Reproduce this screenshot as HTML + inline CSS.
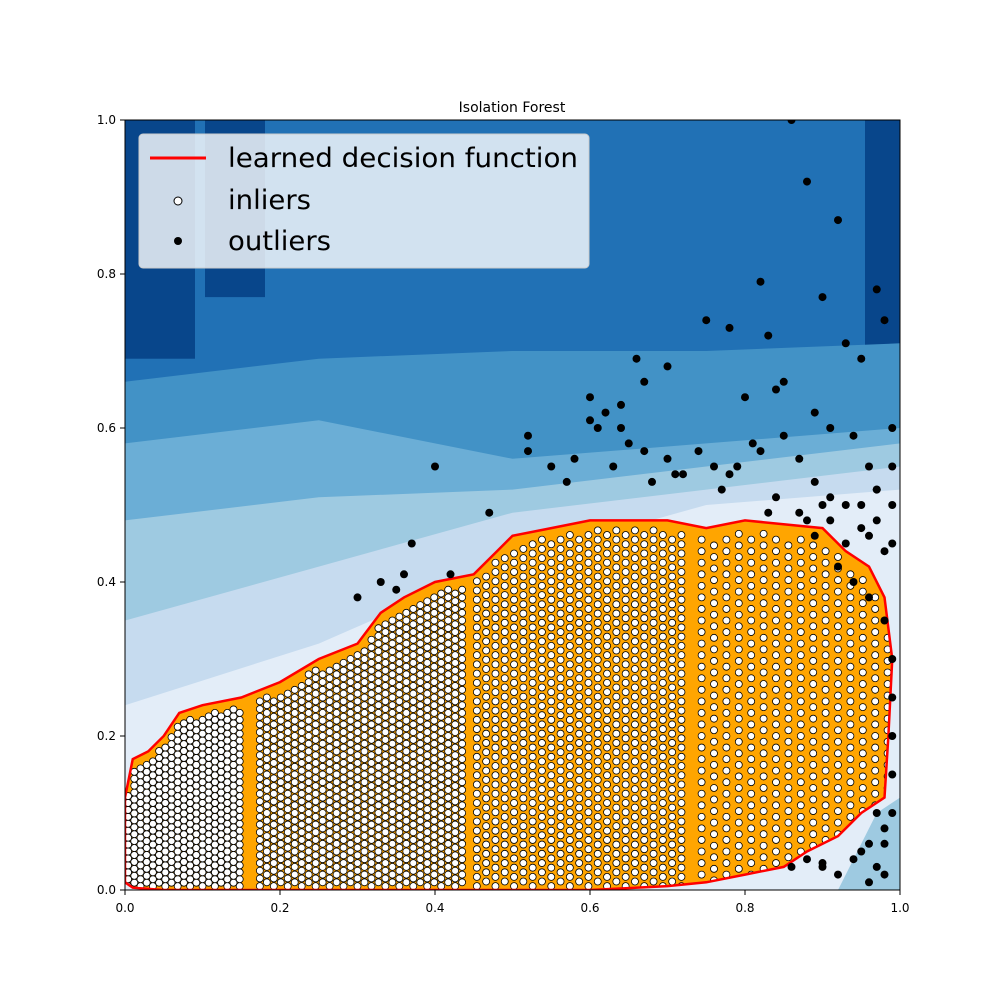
<!DOCTYPE html>
<html><head><meta charset="utf-8"><style>
body{margin:0;background:#fff}
svg text{font-family:"DejaVu Sans","Liberation Sans",sans-serif}
</style></head><body>
<svg id="c" width="1000" height="1000" xmlns="http://www.w3.org/2000/svg">
<text x="512" y="112" font-size="14" text-anchor="middle">Isolation Forest</text>
<clipPath id="cp"><rect x="125" y="120" width="775" height="770"/></clipPath>
<clipPath id="cpin"><path id="cpinpath" d=""/></clipPath>
<g id="plot" clip-path="url(#cp)"></g>
<rect x="125" y="120" width="775" height="770" fill="none" stroke="#000" stroke-width="1"/>
<g id="axes"></g>
<g>
<rect x="139" y="134" width="450" height="134" rx="4" fill="#fff" fill-opacity="0.8" stroke="#ccc"/>
<line x1="150" y1="158" x2="206" y2="158" stroke="red" stroke-width="3"/>
<text x="228" y="167" font-size="27" textLength="350" lengthAdjust="spacingAndGlyphs">learned decision function</text>
<circle cx="178" cy="201" r="4" fill="#fff" stroke="#000"/>
<text x="228" y="209" font-size="27" textLength="83" lengthAdjust="spacingAndGlyphs">inliers</text>
<circle cx="178" cy="241" r="4" fill="#000"/>
<text x="228" y="250" font-size="27" textLength="103" lengthAdjust="spacingAndGlyphs">outliers</text>
</g>
</svg>
<script>
const ticks=[0,0.2,0.4,0.6,0.8,1.0];
const tickLabels=["0.0","0.2","0.4","0.6","0.8","1.0"];
const bandX=[0,0.25,0.5,0.75,1.0];
const bandColors=["#4292c6","#6baed6","#9ecae1","#c6dbef","#e3edf8"];
const bandTops=[[0.66,0.69,0.70,0.70,0.71],[0.58,0.61,0.56,0.58,0.60],[0.48,0.51,0.52,0.55,0.58],[0.35,0.42,0.49,0.52,0.55],[0.24,0.32,0.43,0.50,0.52]];
const boundaryX=[0,0.01,0.03,0.05,0.07,0.1,0.15,0.2,0.25,0.3,0.33,0.36,0.4,0.45,0.48,0.5,0.55,0.6,0.7,0.75,0.8,0.9,0.93,0.96,0.98,0.99,0.985,0.98,0.95,0.92,0.88,0.85,0.8,0.75,0.7,0.6,0.3,0.05,0.01,0];
const boundaryY=[0.12,0.17,0.18,0.2,0.23,0.24,0.25,0.27,0.3,0.32,0.36,0.38,0.4,0.41,0.44,0.46,0.47,0.48,0.48,0.47,0.48,0.47,0.44,0.42,0.38,0.3,0.2,0.12,0.1,0.07,0.05,0.03,0.02,0.01,0.005,0.0,0.0,0.0,0.003,0.01];
const colStart=[0.0,0.17,0.45,0.74];
const colEnd=[0.15,0.44,0.72,0.985];
const colStep=[0.008,0.009,0.012,0.016];
const rowStep=[0.009,0.01,0.012,0.015];
const outX=[0.3,0.33,0.35,0.36,0.37,0.4,0.42,0.47,0.52,0.52,0.55,0.57,0.58,0.6,0.61,0.62,0.63,0.64,0.65,0.66,0.67,0.68,0.7,0.7,0.72,0.75,0.76,0.77,0.78,0.8,0.81,0.82,0.83,0.84,0.85,0.86,0.87,0.88,0.89,0.9,0.91,0.92,0.93,0.94,0.95,0.96,0.97,0.98,0.99,0.82,0.85,0.9,0.95,0.97,0.93,0.96,0.88,0.92,0.94,0.96,0.98,0.99,0.99,0.97,0.95,0.98,0.74,0.79,0.84,0.87,0.89,0.91,0.6,0.64,0.67,0.71,0.86,0.9,0.83,0.78,0.99,0.99,0.99,0.99,0.98,0.97,0.96,0.94,0.92,0.9,0.88,0.96,0.98,0.99,0.97,0.95,0.93,0.91,0.89,0.97,0.99,0.98];
const outY=[0.38,0.4,0.39,0.41,0.45,0.55,0.41,0.49,0.59,0.57,0.55,0.53,0.56,0.64,0.6,0.62,0.55,0.6,0.58,0.69,0.66,0.53,0.68,0.56,0.54,0.74,0.55,0.52,0.54,0.64,0.58,0.57,0.72,0.65,0.59,1.0,0.56,0.92,0.62,0.77,0.6,0.87,0.71,0.59,0.69,0.55,0.78,0.74,0.6,0.79,0.66,0.5,0.5,0.52,0.45,0.46,0.48,0.42,0.4,0.38,0.35,0.3,0.2,0.1,0.05,0.06,0.57,0.55,0.51,0.49,0.46,0.48,0.61,0.63,0.57,0.54,0.03,0.03,0.49,0.73,0.5,0.45,0.25,0.1,0.02,0.03,0.06,0.04,0.02,0.035,0.04,0.01,0.08,0.15,0.52,0.47,0.5,0.51,0.53,0.48,0.55,0.44];
const X=v=>125+775*v, Y=v=>890-770*v;
const NS="http://www.w3.org/2000/svg";
const plot=document.getElementById('plot'), axes=document.getElementById('axes');
function mk(tag,attrs,parent){const e=document.createElementNS(NS,tag);for(const k in attrs)e.setAttribute(k,attrs[k]);parent.appendChild(e);return e;}
let bg=mk('rect',{x:125,y:120,width:775,height:770,fill:"#2171b5"},plot);


[[125,195,0.69],[205,265,0.77],[865,900,0.7]].forEach(r=>{let e=mk('rect',{x:r[0],y:120,width:r[1]-r[0],height:Y(r[2])-120,fill:"#08468b"},plot);

});
bandTops.forEach((tops,i)=>{let d="M"+X(0)+","+Y(0);bandX.forEach((bx,j)=>d+=" L"+X(bx)+","+Y(tops[j]));d+=" L"+X(1)+","+Y(0)+"Z";
let e=mk('path',{d:d,fill:bandColors[i]},plot);

});
let corner=mk('path',{d:"M"+X(0.92)+","+Y(0)+" L"+X(0.97)+","+Y(0.1)+" L"+X(1)+","+Y(0.12)+" L"+X(1)+","+Y(0)+"Z",fill:"#9ecae1"},plot);


let bd="";boundaryX.forEach((bx,i)=>bd+=(i?" L":"M")+X(bx)+","+Y(boundaryY[i]));bd+="Z";
document.getElementById('cpinpath').setAttribute('d',bd);
let orange=mk('path',{d:bd,fill:"orange"},plot);


function topAt(x){for(let i=0;i<25;i++){if(x>=boundaryX[i]&&x<=boundaryX[i+1]){const t=(x-boundaryX[i])/(boundaryX[i+1]-boundaryX[i]);return boundaryY[i]+t*(boundaryY[i+1]-boundaryY[i]);}}return 0.3;}
const gIn=mk('g',{"clip-path":"url(#cpin)"},plot);


colStart.forEach((s,k)=>{let ci=0;for(let x=s+0.004;x<=colEnd[k];x+=colStep[k],ci++){const top=topAt(x)-0.012;for(let y=0.005+(ci%2)*rowStep[k]/2;y<top;y+=rowStep[k]){mk('circle',{cx:X(x),cy:Y(y),r:3.5,fill:"#fff",stroke:"#000","stroke-width":0.8},gIn);}}});
let line=mk('path',{d:bd,fill:"none",stroke:"red","stroke-width":2.5},plot);


const gOut=mk('g',{},plot);


outX.forEach((ox,i)=>{let c=mk('circle',{cx:X(ox),cy:Y(outY[i]),r:4,fill:"#000"},gOut);

});
ticks.forEach((t,i)=>{
mk('line',{x1:X(t),y1:890,x2:X(t),y2:895,stroke:"#000"},axes);
let tx=mk('text',{x:X(t),y:912,"font-size":12,"text-anchor":"middle"},axes);tx.textContent=tickLabels[i];


mk('line',{x1:120,y1:Y(t),x2:125,y2:Y(t),stroke:"#000"},axes);
let ty=mk('text',{x:116,y:Y(t)+4,"font-size":12,"text-anchor":"end"},axes);ty.textContent=tickLabels[i];


});
</script>
</body></html>
